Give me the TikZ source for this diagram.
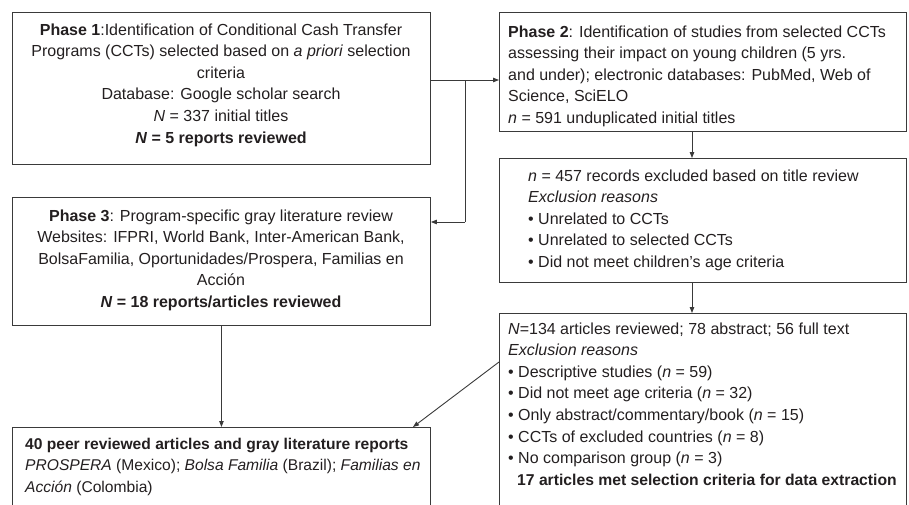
\documentclass[tikz,border=0pt]{standalone}
\usepackage{fontspec}
\setmainfont{Liberation Sans}
\usetikzlibrary{arrows.meta}
\definecolor{ink}{HTML}{231F20}
\definecolor{rule}{HTML}{3A3A3A}
\begin{document}
\begin{tikzpicture}[x=1pt,y=-1pt,
  box/.style={draw=rule,line width=0.9pt,rectangle,inner sep=0pt,anchor=north west},
  txt/.style={inner sep=0pt,text=ink,font=\fontsize{16}{21.6}\selectfont},
  conn/.style={draw=rule,line width=0.9pt,-{Triangle[length=6pt,width=4.5pt]}},
  plain/.style={draw=rule,line width=0.9pt}]
\useasboundingbox (0,0) rectangle (909,504);
% boxes
\node[box,minimum width=418pt,minimum height=152pt] (p1) at (12,12) {};
\node[box,minimum width=407pt,minimum height=119pt] (p2) at (499,12) {};
\node[box,minimum width=407pt,minimum height=124pt] (ex1) at (499,158) {};
\node[box,minimum width=407pt,minimum height=220pt] (ex2) at (499,313) {};
\node[box,minimum width=418pt,minimum height=128pt] (p3) at (12,197) {};
\node[box,minimum width=418pt,minimum height=100pt] (fin) at (12,427) {};
% texts (anchor = baseline of the last line)
\node[txt,anchor=base,align=center] (t1) at (221,143) {\textbf{Phase 1}:Identification of Conditional Cash Transfer\\
Programs (CCTs) selected based on \textit{a priori} selection\\
criteria\\
Database: Google scholar search\\
\textit{N} = 337 initial titles\\
\textbf{\textit{N} = 5 reports reviewed}};
\node[txt,anchor=base west,align=left] (t2) at (508,123.4) {\textbf{Phase 2}: Identification of studies from selected CCTs\\
assessing their impact on young children (5 yrs.\\
and under); electronic databases: PubMed, Web of\\
Science, SciELO\\
\textit{n} = 591 unduplicated initial titles};
\node[txt,anchor=base west,align=left] (t3) at (528,267.4) {\textit{n} = 457 records excluded based on title review\\
\textit{Exclusion reasons}\\
• Unrelated to CCTs\\
• Unrelated to selected CCTs\\
• Did not meet children’s age criteria};
\node[txt,anchor=base west,align=left] (t4) at (508,485.2) {\textit{N}=134 articles reviewed; 78 abstract; 56 full text\\
\textit{Exclusion reasons}\\
• Descriptive studies (\textit{n} = 59)\\
• Did not meet age criteria (\textit{n} = 32)\\
• Only abstract/commentary/book (\textit{n} = 15)\\
• CCTs of excluded countries (\textit{n} = 8)\\
• No comparison group (\textit{n} = 3)\\
\hspace*{9pt}{\fontsize{15.7}{21.6}\selectfont\textbf{17 articles met selection criteria for data extraction}}};
\node[txt,anchor=base,align=center] (t5) at (221,307.4) {\textbf{Phase 3}: Program-specific gray literature review\\
Websites: IFPRI, World Bank, Inter-American Bank,\\
BolsaFamilia, Oportunidades/Prospera, Familias en\\
Acción\\
\textbf{\textit{N} = 18 reports/articles reviewed}};
\node[txt,anchor=base west,align=left,font=\fontsize{15.6}{21.6}\selectfont] (t6) at (25,492.2) {\textbf{40 peer reviewed articles and gray literature reports}\\
\textit{PROSPERA} (Mexico); \textit{Bolsa Familia} (Brazil); \textit{Familias en}\\
\textit{Acción} (Colombia)};
% connectors
\coordinate (j) at (465,80);
\coordinate (k) at (465,222);
\coordinate (m) at (692,0);
\coordinate (d1) at (499,362);
\coordinate (d2) at (413,427);
\draw[conn] (p1.east |- j) -- (p2.west |- j);
\draw[plain] (j) -- (k);
\draw[conn] (k) -- (p3.east |- k);
\draw[conn] (p2.south -| m) -- (ex1.north -| m);
\draw[conn] (ex1.south -| m) -- (ex2.north -| m);
\draw[conn] (p3.south) -- (fin.north);
\draw[conn] (ex2.west |- d1) -- (fin.north -| d2);
\end{tikzpicture}
\end{document}
